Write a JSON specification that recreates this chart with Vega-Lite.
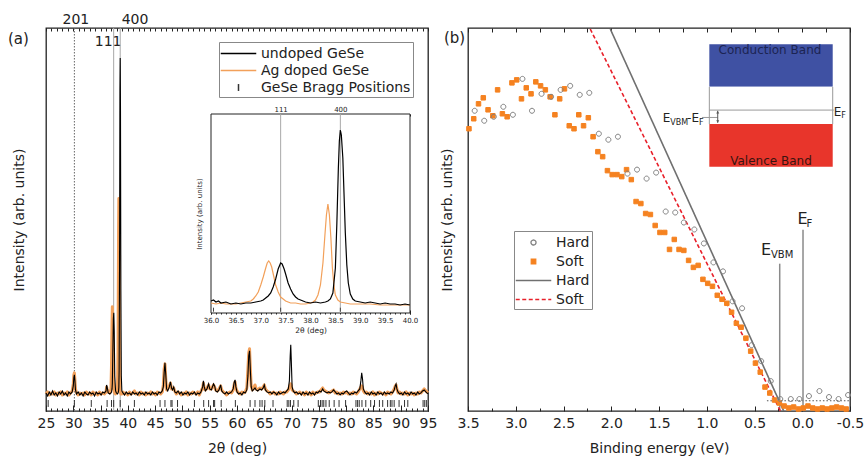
{
"$schema": "https://vega.github.io/schema/vega-lite/v6.json",
"background": "white",
"padding": {"left": 7, "top": 11, "right": 0, "bottom": 2},
"spacing": 1,
"config": {
 "font": "DejaVu Sans",
 "view": {"stroke": "#222", "strokeWidth": 1.3},
 "axis": {"labelFont": "DejaVu Sans", "titleFont": "DejaVu Sans", "labelFontSize": 14, "titleFontSize": 14, "titleFontWeight": "normal", "labelColor": "#222", "titleColor": "#222", "tickColor": "#222", "domain": false, "grid": false, "labelFlush": false, "labelOverlap": false},
 "legend": {"labelFont": "DejaVu Sans", "labelFontSize": 14, "labelColor": "#222"},
 "title": {"font": "DejaVu Sans", "fontWeight": "normal", "color": "#222"},
 "text": {"font": "DejaVu Sans"}
},
"datasets": {
 "xrd": [
{"t":25,"u":18,"a":17},{"t":25.3,"u":15,"a":19},{"t":25.6,"u":19,"a":16},{"t":25.9,"u":16,"a":18},{"t":26.2,"u":20,"a":17},{"t":26.5,"u":16,"a":19},{"t":26.8,"u":18,"a":16},{"t":27.1,"u":15,"a":18},{"t":27.4,"u":19,"a":17},{"t":27.7,"u":17,"a":19},{"t":28,"u":20,"a":16},{"t":28.3,"u":16,"a":18},{"t":28.6,"u":18,"a":17},{"t":28.9,"u":15,"a":19},{"t":29.2,"u":19,"a":16},{"t":29.5,"u":17,"a":18},{"t":29.8,"u":19,"a":20},{"t":30,"u":25,"a":27},{"t":30.1,"u":33,"a":36},{"t":30.2,"u":36,"a":38},{"t":30.3,"u":30,"a":31},{"t":30.4,"u":21,"a":22},{"t":30.6,"u":17,"a":18},{"t":30.9,"u":19,"a":16},{"t":31.2,"u":16,"a":18},{"t":31.5,"u":18,"a":17},{"t":31.8,"u":15,"a":18},{"t":32.1,"u":19,"a":16},{"t":32.4,"u":17,"a":19},{"t":32.7,"u":16,"a":17},{"t":33,"u":19,"a":18},{"t":33.3,"u":17,"a":16},{"t":33.6,"u":18,"a":19},{"t":33.9,"u":15,"a":17},{"t":34.2,"u":19,"a":18},{"t":34.5,"u":17,"a":16},{"t":34.8,"u":18,"a":19},{"t":35.1,"u":16,"a":17},{"t":35.4,"u":19,"a":18},{"t":35.7,"u":18,"a":17},{"t":36,"u":20,"a":19},{"t":36.1,"u":26,"a":24},{"t":36.2,"u":24,"a":22},{"t":36.4,"u":18,"a":19},{"t":36.7,"u":17,"a":18},{"t":36.9,"u":18,"a":22},{"t":37,"u":19,"a":45},{"t":37.1,"u":22,"a":88},{"t":37.16,"u":28,"a":104},{"t":37.25,"u":60,"a":70},{"t":37.35,"u":92,"a":30},{"t":37.42,"u":98,"a":22},{"t":37.5,"u":80,"a":19},{"t":37.6,"u":35,"a":18},{"t":37.75,"u":20,"a":17},{"t":37.9,"u":18,"a":18},{"t":38.1,"u":17,"a":20},{"t":38.2,"u":18,"a":60},{"t":38.3,"u":20,"a":180},{"t":38.35,"u":24,"a":212},{"t":38.4,"u":40,"a":170},{"t":38.48,"u":150,"a":60},{"t":38.55,"u":320,"a":24},{"t":38.6,"u":352,"a":19},{"t":38.65,"u":300,"a":18},{"t":38.72,"u":120,"a":17},{"t":38.8,"u":35,"a":18},{"t":38.9,"u":20,"a":17},{"t":39.1,"u":18,"a":19},{"t":39.4,"u":16,"a":17},{"t":39.7,"u":19,"a":18},{"t":40,"u":17,"a":16},{"t":40.3,"u":18,"a":19},{"t":40.6,"u":16,"a":17},{"t":40.9,"u":19,"a":18},{"t":41.2,"u":17,"a":20},{"t":41.5,"u":18,"a":17},{"t":41.8,"u":16,"a":18},{"t":42.1,"u":19,"a":16},{"t":42.4,"u":17,"a":19},{"t":42.7,"u":18,"a":17},{"t":43,"u":16,"a":18},{"t":43.3,"u":19,"a":16},{"t":43.6,"u":17,"a":18},{"t":43.9,"u":18,"a":17},{"t":44.2,"u":16,"a":19},{"t":44.5,"u":19,"a":17},{"t":44.8,"u":17,"a":18},{"t":45.1,"u":18,"a":16},{"t":45.4,"u":16,"a":19},{"t":45.7,"u":19,"a":18},{"t":46,"u":18,"a":17},{"t":46.3,"u":20,"a":19},{"t":46.5,"u":24,"a":26},{"t":46.65,"u":38,"a":42},{"t":46.8,"u":48,"a":47},{"t":46.95,"u":36,"a":32},{"t":47.1,"u":22,"a":21},{"t":47.3,"u":20,"a":22},{"t":47.6,"u":24,"a":25},{"t":47.8,"u":29,"a":28},{"t":48,"u":23,"a":22},{"t":48.2,"u":21,"a":22},{"t":48.4,"u":24,"a":23},{"t":48.6,"u":19,"a":20},{"t":48.9,"u":18,"a":17},{"t":49.2,"u":20,"a":19},{"t":49.5,"u":17,"a":18},{"t":49.8,"u":19,"a":16},{"t":50.1,"u":16,"a":18},{"t":50.4,"u":18,"a":17},{"t":50.7,"u":17,"a":19},{"t":51,"u":19,"a":16},{"t":51.3,"u":16,"a":18},{"t":51.6,"u":18,"a":17},{"t":51.9,"u":17,"a":19},{"t":52.2,"u":19,"a":18},{"t":52.5,"u":16,"a":17},{"t":52.8,"u":18,"a":19},{"t":53.1,"u":17,"a":16},{"t":53.4,"u":19,"a":20},{"t":53.7,"u":24,"a":23},{"t":53.85,"u":30,"a":28},{"t":54,"u":24,"a":22},{"t":54.2,"u":20,"a":21},{"t":54.5,"u":22,"a":23},{"t":54.8,"u":27,"a":26},{"t":55,"u":22,"a":22},{"t":55.3,"u":21,"a":22},{"t":55.7,"u":27,"a":26},{"t":55.9,"u":25,"a":24},{"t":56.1,"u":20,"a":21},{"t":56.4,"u":19,"a":20},{"t":56.7,"u":21,"a":22},{"t":57,"u":26,"a":25},{"t":57.2,"u":20,"a":21},{"t":57.5,"u":18,"a":19},{"t":57.8,"u":17,"a":18},{"t":58.1,"u":19,"a":16},{"t":58.4,"u":17,"a":18},{"t":58.7,"u":18,"a":19},{"t":59,"u":19,"a":18},{"t":59.3,"u":22,"a":21},{"t":59.5,"u":29,"a":27},{"t":59.65,"u":31,"a":29},{"t":59.8,"u":24,"a":23},{"t":60,"u":19,"a":20},{"t":60.3,"u":17,"a":18},{"t":60.6,"u":18,"a":17},{"t":60.9,"u":16,"a":19},{"t":61.2,"u":19,"a":18},{"t":61.5,"u":18,"a":19},{"t":61.8,"u":21,"a":23},{"t":62,"u":35,"a":42},{"t":62.15,"u":55,"a":58},{"t":62.3,"u":60,"a":62},{"t":62.45,"u":40,"a":42},{"t":62.6,"u":24,"a":25},{"t":62.8,"u":20,"a":21},{"t":63,"u":21,"a":22},{"t":63.3,"u":23,"a":26},{"t":63.5,"u":21,"a":22},{"t":63.8,"u":20,"a":21},{"t":64.2,"u":22,"a":23},{"t":64.5,"u":21,"a":22},{"t":64.8,"u":23,"a":24},{"t":65,"u":26,"a":26},{"t":65.2,"u":21,"a":22},{"t":65.5,"u":19,"a":20},{"t":65.8,"u":18,"a":19},{"t":66.1,"u":19,"a":17},{"t":66.4,"u":17,"a":18},{"t":66.7,"u":19,"a":19},{"t":67,"u":18,"a":17},{"t":67.3,"u":16,"a":18},{"t":67.6,"u":19,"a":17},{"t":67.9,"u":17,"a":19},{"t":68.2,"u":18,"a":18},{"t":68.5,"u":19,"a":17},{"t":68.8,"u":18,"a":19},{"t":69.1,"u":20,"a":19},{"t":69.4,"u":22,"a":21},{"t":69.6,"u":30,"a":24},{"t":69.75,"u":55,"a":26},{"t":69.85,"u":66,"a":27},{"t":69.95,"u":50,"a":25},{"t":70.1,"u":24,"a":21},{"t":70.3,"u":20,"a":20},{"t":70.6,"u":18,"a":19},{"t":70.9,"u":19,"a":17},{"t":71.2,"u":17,"a":18},{"t":71.5,"u":18,"a":19},{"t":71.8,"u":16,"a":17},{"t":72.1,"u":19,"a":18},{"t":72.4,"u":17,"a":16},{"t":72.7,"u":18,"a":19},{"t":73,"u":16,"a":17},{"t":73.3,"u":19,"a":18},{"t":73.6,"u":17,"a":16},{"t":73.9,"u":18,"a":19},{"t":74.2,"u":16,"a":17},{"t":74.5,"u":19,"a":18},{"t":74.8,"u":18,"a":19},{"t":75.1,"u":20,"a":19},{"t":75.4,"u":19,"a":21},{"t":75.7,"u":22,"a":23},{"t":75.9,"u":20,"a":21},{"t":76.2,"u":19,"a":20},{"t":76.5,"u":18,"a":19},{"t":76.8,"u":19,"a":18},{"t":77.1,"u":18,"a":19},{"t":77.4,"u":19,"a":20},{"t":77.7,"u":21,"a":21},{"t":78,"u":19,"a":18},{"t":78.3,"u":17,"a":19},{"t":78.6,"u":18,"a":17},{"t":78.9,"u":16,"a":18},{"t":79.2,"u":18,"a":17},{"t":79.5,"u":17,"a":19},{"t":79.8,"u":19,"a":18},{"t":80.1,"u":20,"a":19},{"t":80.4,"u":18,"a":17},{"t":80.7,"u":16,"a":18},{"t":81,"u":18,"a":17},{"t":81.3,"u":17,"a":19},{"t":81.6,"u":19,"a":18},{"t":81.9,"u":18,"a":17},{"t":82.2,"u":20,"a":19},{"t":82.5,"u":22,"a":22},{"t":82.7,"u":30,"a":24},{"t":82.85,"u":38,"a":25},{"t":83,"u":32,"a":23},{"t":83.15,"u":22,"a":20},{"t":83.4,"u":19,"a":18},{"t":83.7,"u":17,"a":19},{"t":84,"u":18,"a":17},{"t":84.3,"u":16,"a":18},{"t":84.6,"u":19,"a":17},{"t":84.9,"u":17,"a":19},{"t":85.2,"u":18,"a":16},{"t":85.5,"u":16,"a":18},{"t":85.8,"u":19,"a":17},{"t":86.1,"u":17,"a":19},{"t":86.4,"u":18,"a":18},{"t":86.7,"u":16,"a":17},{"t":87,"u":19,"a":18},{"t":87.3,"u":17,"a":16},{"t":87.6,"u":18,"a":19},{"t":87.9,"u":17,"a":18},{"t":88.2,"u":19,"a":17},{"t":88.5,"u":18,"a":19},{"t":88.8,"u":21,"a":22},{"t":89,"u":25,"a":25},{"t":89.15,"u":27,"a":26},{"t":89.3,"u":22,"a":22},{"t":89.5,"u":19,"a":18},{"t":89.8,"u":17,"a":19},{"t":90.1,"u":18,"a":17},{"t":90.4,"u":16,"a":18},{"t":90.7,"u":19,"a":17},{"t":91,"u":17,"a":19},{"t":91.3,"u":18,"a":16},{"t":91.6,"u":16,"a":18},{"t":91.9,"u":19,"a":17},{"t":92.2,"u":17,"a":18},{"t":92.5,"u":18,"a":16},{"t":92.8,"u":16,"a":18},{"t":93.1,"u":19,"a":17},{"t":93.4,"u":17,"a":19},{"t":93.7,"u":18,"a":18},{"t":94,"u":20,"a":20},{"t":94.3,"u":21,"a":22},{"t":94.6,"u":19,"a":20},{"t":95,"u":17,"a":18}
 ],
 "bragg": [{"t":25.4},{"t":30.2},{"t":33.3},{"t":36.2},{"t":37.0},{"t":37.4},{"t":38.6},{"t":41.2},{"t":45.9},{"t":46.8},{"t":47.9},{"t":48.1},{"t":49.1},{"t":52.2},{"t":53.9},{"t":54.8},{"t":55.7},{"t":55.9},{"t":57.1},{"t":59.7},{"t":62.4},{"t":63.3},{"t":64.2},{"t":64.6},{"t":65.1},{"t":66.6},{"t":69.2},{"t":69.5},{"t":69.8},{"t":70.4},{"t":71.2},{"t":74.9},{"t":75.3},{"t":75.6},{"t":75.9},{"t":76.3},{"t":76.9},{"t":77.8},{"t":78.7},{"t":79.9},{"t":81.8},{"t":82.1},{"t":82.4},{"t":82.9},{"t":83.6},{"t":84.5},{"t":85.2},{"t":86.1},{"t":86.7},{"t":87.6},{"t":88.1},{"t":88.4},{"t":88.8},{"t":89.7},{"t":90.7},{"t":91.3},{"t":94.1},{"t":94.4},{"t":94.7}],
 "inset_u": [{"t":36,"I":12},{"t":36.05,"I":13},{"t":36.1,"I":11},{"t":36.15,"I":12},{"t":36.2,"I":10},{"t":36.3,"I":11},{"t":36.4,"I":9},{"t":36.5,"I":10},{"t":36.6,"I":9},{"t":36.7,"I":10},{"t":36.8,"I":10},{"t":36.9,"I":11},{"t":37,"I":12},{"t":37.05,"I":13},{"t":37.1,"I":15},{"t":37.15,"I":17},{"t":37.2,"I":20},{"t":37.25,"I":26},{"t":37.3,"I":34},{"t":37.35,"I":44},{"t":37.4,"I":50},{"t":37.43,"I":49},{"t":37.47,"I":44},{"t":37.5,"I":39},{"t":37.55,"I":30},{"t":37.6,"I":24},{"t":37.65,"I":19},{"t":37.7,"I":16},{"t":37.75,"I":14},{"t":37.8,"I":13},{"t":37.9,"I":11},{"t":38,"I":10},{"t":38.1,"I":11},{"t":38.2,"I":10},{"t":38.3,"I":11},{"t":38.35,"I":12},{"t":38.4,"I":14},{"t":38.45,"I":20},{"t":38.5,"I":45},{"t":38.53,"I":90},{"t":38.56,"I":145},{"t":38.58,"I":172},{"t":38.6,"I":183},{"t":38.62,"I":178},{"t":38.65,"I":155},{"t":38.68,"I":110},{"t":38.7,"I":80},{"t":38.73,"I":48},{"t":38.76,"I":30},{"t":38.8,"I":19},{"t":38.85,"I":14},{"t":38.9,"I":12},{"t":39,"I":11},{"t":39.1,"I":10},{"t":39.2,"I":11},{"t":39.3,"I":10},{"t":39.4,"I":9},{"t":39.5,"I":10},{"t":39.6,"I":9},{"t":39.7,"I":9},{"t":39.8,"I":8},{"t":39.9,"I":9},{"t":40,"I":8}],
 "inset_a": [{"t":36,"I":10},{"t":36.1,"I":9},{"t":36.2,"I":10},{"t":36.3,"I":9},{"t":36.4,"I":9},{"t":36.5,"I":9},{"t":36.6,"I":10},{"t":36.7,"I":11},{"t":36.8,"I":12},{"t":36.85,"I":14},{"t":36.9,"I":17},{"t":36.95,"I":21},{"t":37,"I":28},{"t":37.05,"I":36},{"t":37.1,"I":45},{"t":37.13,"I":50},{"t":37.16,"I":52},{"t":37.19,"I":50},{"t":37.22,"I":46},{"t":37.26,"I":37},{"t":37.3,"I":28},{"t":37.35,"I":21},{"t":37.4,"I":16},{"t":37.45,"I":14},{"t":37.5,"I":12},{"t":37.6,"I":10},{"t":37.7,"I":10},{"t":37.8,"I":9},{"t":37.9,"I":9},{"t":38,"I":10},{"t":38.05,"I":11},{"t":38.1,"I":13},{"t":38.15,"I":18},{"t":38.2,"I":28},{"t":38.25,"I":50},{"t":38.29,"I":78},{"t":38.32,"I":98},{"t":38.35,"I":109},{"t":38.38,"I":98},{"t":38.41,"I":75},{"t":38.44,"I":45},{"t":38.47,"I":28},{"t":38.5,"I":18},{"t":38.55,"I":13},{"t":38.6,"I":11},{"t":38.7,"I":10},{"t":38.8,"I":9},{"t":39,"I":9},{"t":39.2,"I":9},{"t":39.4,"I":8},{"t":39.6,"I":8},{"t":39.8,"I":8},{"t":40,"I":8}],
 "pts": [
{"E":3.49,"I":283,"s":"Soft"},{"E":3.44,"I":293,"s":"Soft"},{"E":3.39,"I":308,"s":"Soft"},{"E":3.34,"I":314,"s":"Soft"},{"E":3.29,"I":302,"s":"Soft"},{"E":3.24,"I":296,"s":"Soft"},{"E":3.19,"I":322,"s":"Soft"},{"E":3.14,"I":298,"s":"Soft"},{"E":3.09,"I":295,"s":"Soft"},{"E":3.04,"I":329,"s":"Soft"},{"E":2.99,"I":332,"s":"Soft"},{"E":2.94,"I":313,"s":"Soft"},{"E":2.89,"I":324,"s":"Soft"},{"E":2.84,"I":318,"s":"Soft"},{"E":2.79,"I":330,"s":"Soft"},{"E":2.74,"I":326,"s":"Soft"},{"E":2.69,"I":322,"s":"Soft"},{"E":2.64,"I":315,"s":"Soft"},{"E":2.59,"I":297,"s":"Soft"},{"E":2.54,"I":313,"s":"Soft"},{"E":2.49,"I":323,"s":"Soft"},{"E":2.44,"I":286,"s":"Soft"},{"E":2.39,"I":283,"s":"Soft"},{"E":2.34,"I":297,"s":"Soft"},{"E":2.29,"I":286,"s":"Soft"},{"E":2.24,"I":294,"s":"Soft"},{"E":2.19,"I":275,"s":"Soft"},{"E":2.14,"I":260,"s":"Soft"},{"E":2.09,"I":255,"s":"Soft"},{"E":2.04,"I":241,"s":"Soft"},{"E":1.99,"I":237,"s":"Soft"},{"E":1.94,"I":237,"s":"Soft"},{"E":1.89,"I":235,"s":"Soft"},{"E":1.84,"I":242,"s":"Soft"},{"E":1.79,"I":232,"s":"Soft"},{"E":1.74,"I":210,"s":"Soft"},{"E":1.69,"I":208,"s":"Soft"},{"E":1.64,"I":198,"s":"Soft"},{"E":1.59,"I":197,"s":"Soft"},{"E":1.54,"I":186,"s":"Soft"},{"E":1.49,"I":179,"s":"Soft"},{"E":1.44,"I":179,"s":"Soft"},{"E":1.39,"I":162,"s":"Soft"},{"E":1.34,"I":172,"s":"Soft"},{"E":1.29,"I":162,"s":"Soft"},{"E":1.24,"I":161,"s":"Soft"},{"E":1.19,"I":151,"s":"Soft"},{"E":1.14,"I":144,"s":"Soft"},{"E":1.09,"I":146,"s":"Soft"},{"E":1.04,"I":132,"s":"Soft"},{"E":0.99,"I":128,"s":"Soft"},{"E":0.94,"I":125,"s":"Soft"},{"E":0.89,"I":116,"s":"Soft"},{"E":0.84,"I":112,"s":"Soft"},{"E":0.79,"I":108,"s":"Soft"},{"E":0.74,"I":99,"s":"Soft"},{"E":0.69,"I":88,"s":"Soft"},{"E":0.64,"I":84,"s":"Soft"},{"E":0.59,"I":73,"s":"Soft"},{"E":0.54,"I":60,"s":"Soft"},{"E":0.49,"I":48,"s":"Soft"},{"E":0.44,"I":39,"s":"Soft"},{"E":0.39,"I":24,"s":"Soft"},{"E":0.34,"I":18,"s":"Soft"},{"E":0.29,"I":11,"s":"Soft"},{"E":0.24,"I":8,"s":"Soft"},{"E":0.19,"I":5,"s":"Soft"},{"E":0.14,"I":3,"s":"Soft"},{"E":0.09,"I":4,"s":"Soft"},{"E":0.04,"I":2,"s":"Soft"},{"E":-0.01,"I":3,"s":"Soft"},{"E":-0.06,"I":5,"s":"Soft"},{"E":-0.11,"I":3,"s":"Soft"},{"E":-0.16,"I":2,"s":"Soft"},{"E":-0.21,"I":3,"s":"Soft"},{"E":-0.26,"I":2,"s":"Soft"},{"E":-0.31,"I":3,"s":"Soft"},{"E":-0.36,"I":4,"s":"Soft"},{"E":-0.41,"I":3,"s":"Soft"},{"E":-0.46,"I":2,"s":"Soft"},
{"E":3.43,"I":301,"s":"Hard"},{"E":3.33,"I":291,"s":"Hard"},{"E":3.23,"I":295,"s":"Hard"},{"E":3.13,"I":305,"s":"Hard"},{"E":3.03,"I":297,"s":"Hard"},{"E":2.93,"I":333,"s":"Hard"},{"E":2.83,"I":301,"s":"Hard"},{"E":2.73,"I":318,"s":"Hard"},{"E":2.63,"I":315,"s":"Hard"},{"E":2.53,"I":322,"s":"Hard"},{"E":2.43,"I":326,"s":"Hard"},{"E":2.33,"I":317,"s":"Hard"},{"E":2.23,"I":319,"s":"Hard"},{"E":2.13,"I":278,"s":"Hard"},{"E":2.03,"I":272,"s":"Hard"},{"E":1.93,"I":275,"s":"Hard"},{"E":1.83,"I":238,"s":"Hard"},{"E":1.73,"I":242,"s":"Hard"},{"E":1.63,"I":233,"s":"Hard"},{"E":1.53,"I":239,"s":"Hard"},{"E":1.43,"I":200,"s":"Hard"},{"E":1.33,"I":199,"s":"Hard"},{"E":1.24,"I":189,"s":"Hard"},{"E":1.13,"I":182,"s":"Hard"},{"E":1.03,"I":168,"s":"Hard"},{"E":0.93,"I":149,"s":"Hard"},{"E":0.83,"I":140,"s":"Hard"},{"E":0.73,"I":110,"s":"Hard"},{"E":0.63,"I":103,"s":"Hard"},{"E":0.53,"I":66,"s":"Hard"},{"E":0.43,"I":50,"s":"Hard"},{"E":0.33,"I":30,"s":"Hard"},{"E":0.23,"I":12,"s":"Hard"},{"E":0.12,"I":12,"s":"Hard"},{"E":0.03,"I":12,"s":"Hard"},{"E":-0.07,"I":15,"s":"Hard"},{"E":-0.18,"I":20,"s":"Hard"},{"E":-0.28,"I":14,"s":"Hard"},{"E":-0.38,"I":12,"s":"Hard"},{"E":-0.48,"I":16,"s":"Hard"}
 ],
 "fits": [{"E":2.01,"I":383,"s":"Hard "},{"E":0.194,"I":0,"s":"Hard "},{"E":2.22,"I":383,"s":"Soft "},{"E":0.229,"I":0,"s":"Soft "}],
 "hrules": [{"E0": 0.973, "E1": -0.33, "I": 301.7}, {"E0": 1.05, "E1": 0.885, "I": 294.3}],
 "vrules": [{"E": 0.973, "lo": 287.7, "hi": 325}, {"E": -0.319, "lo": 287.7, "hi": 325}],
 "bands": [{"E0": 0.973, "E1": -0.319, "lo": 325, "hi": 367.7, "band": "cb"}, {"E0": 0.973, "E1": -0.319, "lo": 287.7, "hi": 325, "band": "gap"}, {"E0": 0.973, "E1": -0.319, "lo": 245, "hi": 287.7, "band": "vb"}],
 "cblabel": [{"E": 0.338, "I": 361.7, "label": "Conduction Band"}],
 "vblabel": [{"E": 0.327, "I": 251, "label": "Valence Band"}],
 "t16": [{"E": 0.432, "I": 156, "label": "E"}, {"E": 0.05, "I": 187.7, "label": "E"}],
 "t10": [{"E": 0.327, "I": 153.5, "label": "VBM"}, {"E": -0.044, "I": 184.3, "label": "F"}],
 "t12": [{"E": -0.329, "I": 296, "label": "E"}, {"E": 1.461, "I": 289.3, "label": "E"}, {"E": 1.206, "I": 289.3, "label": "-E"}],
 "t8": [{"E": -0.409, "I": 293.5, "label": "F"}, {"E": 1.381, "I": 287, "label": "VBM"}, {"E": 1.081, "I": 287, "label": "F"}],
 "arrow": [{"E": 0.885, "lo": 289, "hi": 301}]
},
"hconcat": [
{
 "width": 382, "height": 383,
 "title": {"text": "(a)", "anchor": "start", "frame": "group", "dx": -38, "dy": 39, "fontSize": 15},
 "resolve": {"scale": {"x": "independent", "y": "independent"}},
 "layer": [
  {"data": {"values": [{"t": 37.4}, {"t": 38.6}]},
   "mark": {"type": "rule", "color": "#a8a8a8", "strokeWidth": 1},
   "encoding": {"x": {"field": "t", "type": "quantitative", "scale": {"domain": [25, 95], "nice": false, "zero": false},
     "axis": {"orient": "top", "values": [25,26,27,28,29,30,31,32,33,34,35,36,37,38,39,40,41,42,43,44,45,46,47,48,49,50,51,52,53,54,55,56,57,58,59,60,61,62,63,64,65,66,67,68,69,70,71,72,73,74,75,76,77,78,79,80,81,82,83,84,85,86,87,88,89,90,91,92,93,94,95], "labels": false, "tickSize": -3, "title": null}}}},
  {"data": {"values": [{"t": 30.2}]},
   "mark": {"type": "rule", "color": "#666", "strokeWidth": 1, "strokeDash": [1.5, 1.5]},
   "encoding": {"x": {"field": "t", "type": "quantitative", "scale": {"domain": [25, 95], "nice": false, "zero": false},
     "axis": {"orient": "top", "values": [30.2, 37.4, 38.6], "ticks": false, "title": null,
       "labelExpr": "datum.value == 30.2 ? '201' : datum.value == 37.4 ? '111' : '400'",
       "labelPadding": {"condition": {"test": "datum.value == 37.4", "value": -20}, "value": 2},
       "labelAlign": {"condition": {"test": "datum.value == 38.6", "value": "left"}, "value": "center"},
       "labelOffset": {"condition": {"test": "datum.value == 37.4", "value": -6}, "value": 1}}}}},
  {"data": {"name": "xrd"},
   "mark": {"type": "line", "strokeWidth": 3, "strokeJoin": "round"},
   "encoding": {
    "x": {"field": "t", "type": "quantitative", "scale": {"domain": [25, 95], "nice": false, "zero": false},
      "axis": {"orient": "bottom", "values": [25,30,35,40,45,50,55,60,65,70,75,80,85,90,95], "ticks": false, "labelPadding": 5, "title": "2θ (deg)", "titlePadding": 11}},
    "y": {"field": "a", "type": "quantitative", "scale": {"domain": [0, 382], "nice": false, "zero": false},
      "axis": {"orient": "left", "labels": false, "ticks": false, "title": "Intensity (arb. units)", "titlePadding": 20}},
    "stroke": {"datum": "Ag doped GeSe", "type": "nominal",
      "scale": {"domain": ["undoped GeSe", "Ag doped GeSe", "GeSe Bragg Positions"], "range": ["#000000", "#f2a05a", "#333333"]},
      "legend": {"orient": "none", "legendX": 173, "legendY": 14, "title": null, "strokeColor": "#888", "fillColor": "white", "padding": 2, "symbolSize": 300, "symbolStrokeWidth": 1.5, "symbolFillColor": "transparent", "symbolOffset": 8, "labelOffset": 13, "rowPadding": 0, "labelFontSize": 14, "cornerRadius": 0}}}},
  {"data": {"name": "xrd"},
   "mark": {"type": "line", "strokeWidth": 1.1},
   "encoding": {
    "x": {"field": "t", "type": "quantitative", "scale": {"domain": [25, 95], "nice": false, "zero": false},
      "axis": {"orient": "bottom", "values": [25,30,35,40,45,50,55,60,65,70,75,80,85,90,95], "labels": false, "tickSize": -6, "title": null}},
    "y": {"field": "u", "type": "quantitative", "scale": {"domain": [0, 382], "nice": false, "zero": false}, "axis": null},
    "stroke": {"datum": "undoped GeSe", "type": "nominal",
      "scale": {"domain": ["undoped GeSe", "Ag doped GeSe", "GeSe Bragg Positions"], "range": ["#000000", "#f2a05a", "#333333"]}}}},
  {"data": {"name": "bragg"},
   "mark": {"type": "point", "size": 300, "strokeWidth": 1, "filled": false, "opacity": 1},
   "encoding": {
    "x": {"field": "t", "type": "quantitative", "scale": {"domain": [25, 95], "nice": false, "zero": false},
      "axis": {"orient": "bottom", "values": [25,26,27,28,29,30,31,32,33,34,35,36,37,38,39,40,41,42,43,44,45,46,47,48,49,50,51,52,53,54,55,56,57,58,59,60,61,62,63,64,65,66,67,68,69,70,71,72,73,74,75,76,77,78,79,80,81,82,83,84,85,86,87,88,89,90,91,92,93,94,95], "labels": false, "tickSize": -3, "title": null}},
    "y": {"datum": 7.5, "type": "quantitative", "scale": {"domain": [0, 382], "nice": false, "zero": false}, "axis": null},
    "stroke": {"datum": "GeSe Bragg Positions", "type": "nominal",
      "scale": {"domain": ["undoped GeSe", "Ag doped GeSe", "GeSe Bragg Positions"], "range": ["#000000", "#f2a05a", "#333333"]}},
    "shape": {"datum": "GeSe Bragg Positions", "type": "nominal",
      "scale": {"domain": ["undoped GeSe", "Ag doped GeSe", "GeSe Bragg Positions"], "range": ["M-2.05,0L2.05,0", "M-2.05,0L2.05,0", "M0,-0.4L0,0.4"]}}}},
  {"data": {"values": [{"lo": 0, "hi": 199, "x0": 36, "x1": 40}]},
   "mark": {"type": "rect", "fill": "white", "stroke": "#222", "strokeWidth": 1},
   "encoding": {
    "x": {"field": "x0", "type": "quantitative", "scale": {"domain": [36, 40], "range": [165, 364], "nice": false, "zero": false},
      "axis": {"orient": "bottom", "offset": -97, "values": [36,36.5,37,37.5,38,38.5,39,39.5,40], "format": ".1f", "ticks": false, "labelFontSize": 7, "labelPadding": 2, "title": "2θ (deg)", "titleFontSize": 7.5, "titlePadding": 3}},
    "x2": {"field": "x1"},
    "y": {"field": "lo", "type": "quantitative", "scale": {"domain": [0, 199], "range": [285, 86], "nice": false, "zero": false},
      "axis": {"orient": "left", "offset": -165, "labels": false, "ticks": false, "title": "Intensity (arb. units)", "titleFontSize": 7, "titlePadding": 9}},
    "y2": {"field": "hi"}}},
  {"data": {"values": [{"t": 37.4, "lo": 0, "hi": 199}, {"t": 38.6, "lo": 0, "hi": 199}]},
   "mark": {"type": "rule", "color": "#a8a8a8", "strokeWidth": 1},
   "encoding": {
    "x": {"field": "t", "type": "quantitative", "scale": {"domain": [36, 40], "range": [165, 364], "nice": false, "zero": false},
      "axis": {"orient": "top", "offset": -86, "values": [37.4, 38.6], "ticks": false, "labelExpr": "datum.value == 37.4 ? '111' : '400'", "labelFontSize": 7, "labelPadding": 2, "title": null}},
    "y": {"field": "lo", "type": "quantitative", "scale": {"domain": [0, 199], "range": [285, 86], "nice": false, "zero": false}, "axis": null},
    "y2": {"field": "hi"}}},
  {"data": {"name": "inset_a"},
   "mark": {"type": "line", "strokeWidth": 1.2, "color": "#f2a05a"},
   "encoding": {
    "x": {"field": "t", "type": "quantitative", "scale": {"domain": [36, 40], "range": [165, 364], "nice": false, "zero": false},
      "axis": {"orient": "bottom", "offset": -97, "values": [36,36.5,37,37.5,38,38.5,39,39.5,40], "labels": false, "tickSize": -4, "title": null}},
    "y": {"field": "I", "type": "quantitative", "scale": {"domain": [0, 199], "range": [285, 86], "nice": false, "zero": false}, "axis": null}}},
  {"data": {"name": "inset_u"},
   "mark": {"type": "line", "strokeWidth": 1.2, "color": "#000000"},
   "encoding": {
    "x": {"field": "t", "type": "quantitative", "scale": {"domain": [36, 40], "range": [165, 364], "nice": false, "zero": false},
      "axis": {"orient": "bottom", "offset": -97, "values": [36,36.1,36.2,36.3,36.4,36.5,36.6,36.7,36.8,36.9,37,37.1,37.2,37.3,37.4,37.5,37.6,37.7,37.8,37.9,38,38.1,38.2,38.3,38.4,38.5,38.6,38.7,38.8,38.9,39,39.1,39.2,39.3,39.4,39.5,39.6,39.7,39.8,39.9,40], "labels": false, "tickSize": -2, "title": null}},
    "y": {"field": "I", "type": "quantitative", "scale": {"domain": [0, 199], "range": [285, 86], "nice": false, "zero": false}, "axis": null}}},
  {"data": {"values": [{"t": 36.05, "lo": 1.3, "hi": 5.3}, {"t": 37.4, "lo": 1.3, "hi": 5.3}, {"t": 38.6, "lo": 1.3, "hi": 5.3}]},
   "mark": {"type": "rule", "color": "#444", "strokeWidth": 1},
   "encoding": {
    "x": {"field": "t", "type": "quantitative", "scale": {"domain": [36, 40], "range": [165, 364], "nice": false, "zero": false},
      "axis": {"orient": "top", "offset": -86, "values": [36,36.1,36.2,36.3,36.4,36.5,36.6,36.7,36.8,36.9,37,37.1,37.2,37.3,37.4,37.5,37.6,37.7,37.8,37.9,38,38.1,38.2,38.3,38.4,38.5,38.6,38.7,38.8,38.9,39,39.1,39.2,39.3,39.4,39.5,39.6,39.7,39.8,39.9,40], "labels": false, "tickSize": -2, "title": null}},
    "y": {"field": "lo", "type": "quantitative", "scale": {"domain": [0, 199], "range": [285, 86], "nice": false, "zero": false}, "axis": null},
    "y2": {"field": "hi"}}}
 ]
},
{
 "width": 382, "height": 383,
 "title": {"text": "(b)", "anchor": "start", "frame": "group", "dx": -24, "dy": 24, "fontSize": 15},
 "resolve": {"scale": {"x": "independent", "y": "independent"}},
 "encoding": {
  "x": {"field": "E", "type": "quantitative", "scale": {"domain": [-0.5, 3.5], "reverse": true, "nice": false, "zero": false}, "axis": null},
  "y": {"field": "I", "type": "quantitative", "scale": {"domain": [0, 384], "nice": false, "zero": false}, "axis": null}
 },
 "layer": [
  {"data": {"values": [{"E0": 0.37, "E1": -0.49, "I": 10.3}]},
   "mark": {"type": "rule", "color": "#555", "strokeWidth": 1.2, "strokeDash": [1.5, 2]},
   "encoding": {
    "x": {"field": "E0", "type": "quantitative", "scale": {"domain": [-0.5, 3.5], "reverse": true, "nice": false, "zero": false},
      "axis": {"orient": "bottom", "values": [3.25, 2.75, 2.25, 1.75, 1.25, 0.75, 0.25, -0.25], "labels": false, "tickSize": -3, "title": null}},
    "x2": {"field": "E1"}}},
  {"data": {"values": [{"E": 0.236, "lo": 0, "hi": 147.7}, {"E": -0.008, "lo": 0, "hi": 181.7}]},
   "mark": {"type": "rule", "color": "#8a8a8a", "strokeWidth": 1.5},
   "encoding": {
    "x": {"field": "E", "type": "quantitative", "scale": {"domain": [-0.5, 3.5], "reverse": true, "nice": false, "zero": false},
      "axis": {"orient": "top", "values": [3.5, 3.25, 3, 2.75, 2.5, 2.25, 2, 1.75, 1.5, 1.25, 1, 0.75, 0.5, 0.25, 0, -0.25, -0.5], "labels": false, "tickSize": -4, "title": null}},
    "y": {"field": "lo", "type": "quantitative", "scale": {"domain": [0, 384], "nice": false, "zero": false}, "axis": null},
    "y2": {"field": "hi"}}},
  {"data": {"name": "fits"},
   "mark": {"type": "line", "strokeWidth": 1.6},
   "encoding": {
    "x": {"field": "E", "type": "quantitative", "scale": {"domain": [-0.5, 3.5], "reverse": true, "nice": false, "zero": false},
      "axis": {"orient": "bottom", "values": [3.5, 3, 2.5, 2, 1.5, 1, 0.5, 0, -0.5], "labels": false, "tickSize": -5, "title": null}},
    "stroke": {"field": "s", "type": "nominal", "scale": {"domain": ["Hard", "Soft", "Hard ", "Soft "], "range": ["#808080", "#f58220", "#707070", "#e8202a"]},
      "legend": {"orient": "none", "legendX": 46, "legendY": 203, "title": null, "strokeColor": "#888", "fillColor": "white", "padding": 2, "symbolSize": 300, "symbolStrokeWidth": 1.3, "symbolFillColor": "transparent", "symbolOffset": 8, "labelOffset": 13, "rowPadding": 2, "labelFontSize": 14, "cornerRadius": 0}},
    "strokeDash": {"field": "s", "type": "nominal", "scale": {"domain": ["Hard", "Soft", "Hard ", "Soft "], "range": [[1, 0], [1, 0], [1, 0], [4, 2.5]]}}}},
  {"data": {"name": "pts"},
   "mark": {"type": "point", "size": 300, "strokeWidth": 1, "filled": true, "opacity": 1},
   "encoding": {
    "x": {"field": "E", "type": "quantitative", "scale": {"domain": [-0.5, 3.5], "reverse": true, "nice": false, "zero": false},
      "axis": {"orient": "bottom", "values": [3.5, 3, 2.5, 2, 1.5, 1, 0.5, 0, -0.5], "labelExpr": "replace(format(datum.value, '.1f'), '−', '-')", "ticks": false, "labelPadding": 5, "title": "Binding energy (eV)", "titlePadding": 11}},
    "y": {"field": "I", "type": "quantitative", "scale": {"domain": [0, 384], "nice": false, "zero": false},
      "axis": {"orient": "left", "labels": false, "ticks": false, "title": "Intensity (arb. units)", "titlePadding": 14}},
    "stroke": {"field": "s", "type": "nominal", "scale": {"domain": ["Hard", "Soft", "Hard ", "Soft "], "range": ["#808080", "#f58220", "#707070", "#e8202a"]}},
    "fill": {"field": "s", "type": "nominal", "scale": {"domain": ["Hard", "Soft", "Hard ", "Soft "], "range": ["transparent", "#f58220", "transparent", "transparent"]}},
    "shape": {"field": "s", "type": "nominal", "scale": {"domain": ["Hard", "Soft", "Hard ", "Soft "], "range": ["M-0.29,0A0.29,0.29 0 1,0 0.29,0A0.29,0.29 0 1,0 -0.29,0Z", "M-0.26,-0.26L0.26,-0.26L0.26,0.26L-0.26,0.26Z", "M-2.05,0L2.05,0", "M-2.05,0L2.05,0"]}}}},
  {"data": {"name": "bands"},
   "mark": {"type": "rect"},
   "encoding": {
    "x": {"field": "E0", "type": "quantitative", "scale": {"domain": [-0.5, 3.5], "reverse": true, "nice": false, "zero": false}, "axis": null},
    "x2": {"field": "E1"},
    "y": {"field": "lo", "type": "quantitative", "scale": {"domain": [0, 384], "nice": false, "zero": false}, "axis": null},
    "y2": {"field": "hi"},
    "color": {"field": "band", "type": "nominal", "scale": {"domain": ["cb", "gap", "vb"], "range": ["#3f51a3", "#ffffff", "#e8352b"]}, "legend": null}}},
  {"data": {"name": "hrules"},
   "mark": {"type": "rule", "color": "#999", "strokeWidth": 1},
   "encoding": {"x": {"field": "E0", "type": "quantitative", "scale": {"domain": [-0.5, 3.5], "reverse": true, "nice": false, "zero": false}, "axis": null}, "x2": {"field": "E1"}}},
  {"data": {"name": "vrules"},
   "mark": {"type": "rule", "color": "#999", "strokeWidth": 1},
   "encoding": {"y": {"field": "lo", "type": "quantitative", "scale": {"domain": [0, 384], "nice": false, "zero": false}, "axis": null}, "y2": {"field": "hi"}}},
  {"data": {"name": "arrow"},
   "mark": {"type": "rule", "color": "#555", "strokeWidth": 1},
   "encoding": {"y": {"field": "lo", "type": "quantitative", "scale": {"domain": [0, 384], "nice": false, "zero": false}, "axis": null}, "y2": {"field": "hi"}}},
  {"data": {"values": [{"E": 0.885, "I": 299.6}]}, "mark": {"type": "point", "shape": "triangle-up", "filled": true, "size": 9, "color": "#555", "opacity": 1}},
  {"data": {"values": [{"E": 0.885, "I": 290.2}]}, "mark": {"type": "point", "shape": "triangle-down", "filled": true, "size": 9, "color": "#555", "opacity": 1}},
  {"data": {"name": "cblabel"}, "mark": {"type": "text", "fontSize": 12, "align": "center", "baseline": "middle", "color": "#1c2452"},
   "encoding": {"text": {"field": "label", "type": "nominal"}}},
  {"data": {"name": "vblabel"}, "mark": {"type": "text", "fontSize": 12, "align": "center", "baseline": "middle", "color": "#3a1410"},
   "encoding": {"text": {"field": "label", "type": "nominal"}}},
  {"data": {"name": "t16"}, "mark": {"type": "text", "fontSize": 16, "align": "left", "baseline": "alphabetic", "color": "#222"},
   "encoding": {"text": {"field": "label", "type": "nominal"}}},
  {"data": {"name": "t10"}, "mark": {"type": "text", "fontSize": 10, "align": "left", "baseline": "alphabetic", "color": "#222"},
   "encoding": {"text": {"field": "label", "type": "nominal"}}},
  {"data": {"name": "t12"}, "mark": {"type": "text", "fontSize": 12, "align": "left", "baseline": "alphabetic", "color": "#222"},
   "encoding": {"text": {"field": "label", "type": "nominal"}}},
  {"data": {"name": "t8"}, "mark": {"type": "text", "fontSize": 8, "align": "left", "baseline": "alphabetic", "color": "#222"},
   "encoding": {"text": {"field": "label", "type": "nominal"}}}
 ]
}
],
"resolve": {"scale": {"stroke": "independent", "shape": "independent", "fill": "independent", "strokeDash": "independent", "color": "independent"}}
}
